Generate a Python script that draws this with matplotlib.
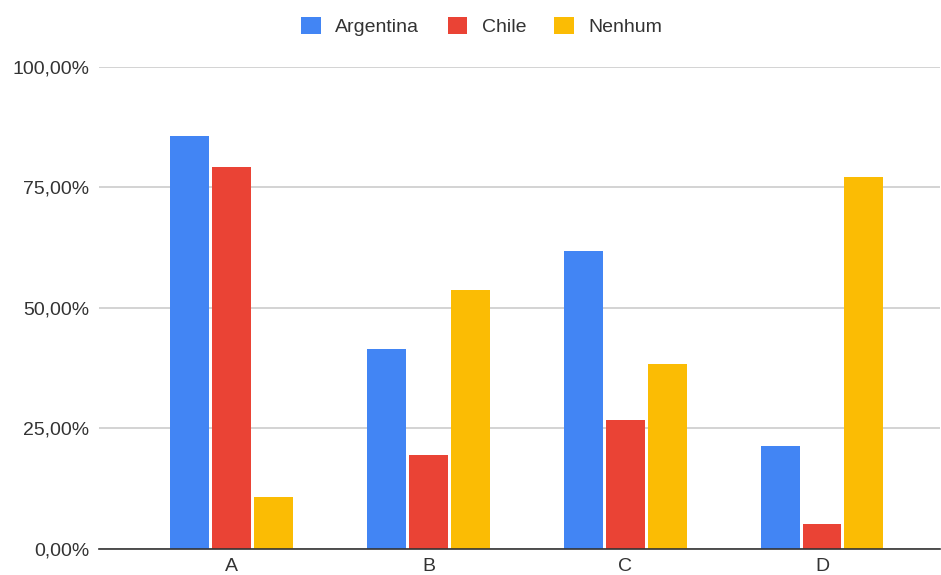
import numpy as np
import matplotlib.pyplot as plt
from matplotlib.ticker import FuncFormatter

plt.rcParams['font.family'] = ['Liberation Sans', 'DejaVu Sans']

categorias = ['A', 'B', 'C', 'D']
argentina = [85.6, 41.4, 61.7, 21.2]
chile = [79.2, 19.5, 26.7, 5.1]
nenhum = [10.7, 53.7, 38.3, 77.1]

series = [('Argentina', argentina, '#4285F4'),
          ('Chile', chile, '#EA4335'),
          ('Nenhum', nenhum, '#FBBC04')]

fig = plt.figure(figsize=(9.41, 5.75), dpi=100)
ax = fig.add_axes([0.105, 0.046, 0.894, 0.838])

x = np.arange(len(categorias))
largura = 0.198
passo = 0.213
for i, (nome, vals, cor) in enumerate(series):
    ax.bar(x + (i - 1) * passo, vals, width=largura, color=cor, label=nome, zorder=3)

ax.set_ylim(0, 100)
ax.set_xlim(-0.676, 3.6)
ax.set_yticks([0, 25, 50, 75, 100])
ax.yaxis.set_major_formatter(FuncFormatter(lambda v, p: f'{v:.2f}'.replace('.', ',') + '%'))
ax.set_xticks(x)
ax.set_xticklabels(categorias)

ax.grid(axis='y', color='#cccccc', linewidth=1.2, zorder=0)
for s in ['top', 'right', 'left']:
    ax.spines[s].set_visible(False)
ax.spines['bottom'].set_color('#333333')
ax.spines['bottom'].set_linewidth(1.2)
ax.spines['bottom'].set_zorder(4)
ax.tick_params(axis='both', length=0, labelsize=14, colors='#333333')
ax.tick_params(axis='y', pad=7)
ax.tick_params(axis='x', pad=6.5)

fig.legend(loc='center', bbox_to_anchor=(0.512, 1 - 26.5 / 575), ncol=3, frameon=False,
           fontsize=14, handlelength=1.0, handleheight=1.0, handletextpad=0.75,
           columnspacing=1.45, labelcolor='#333333')

fig.savefig('out.png', dpi=100, facecolor='white')
